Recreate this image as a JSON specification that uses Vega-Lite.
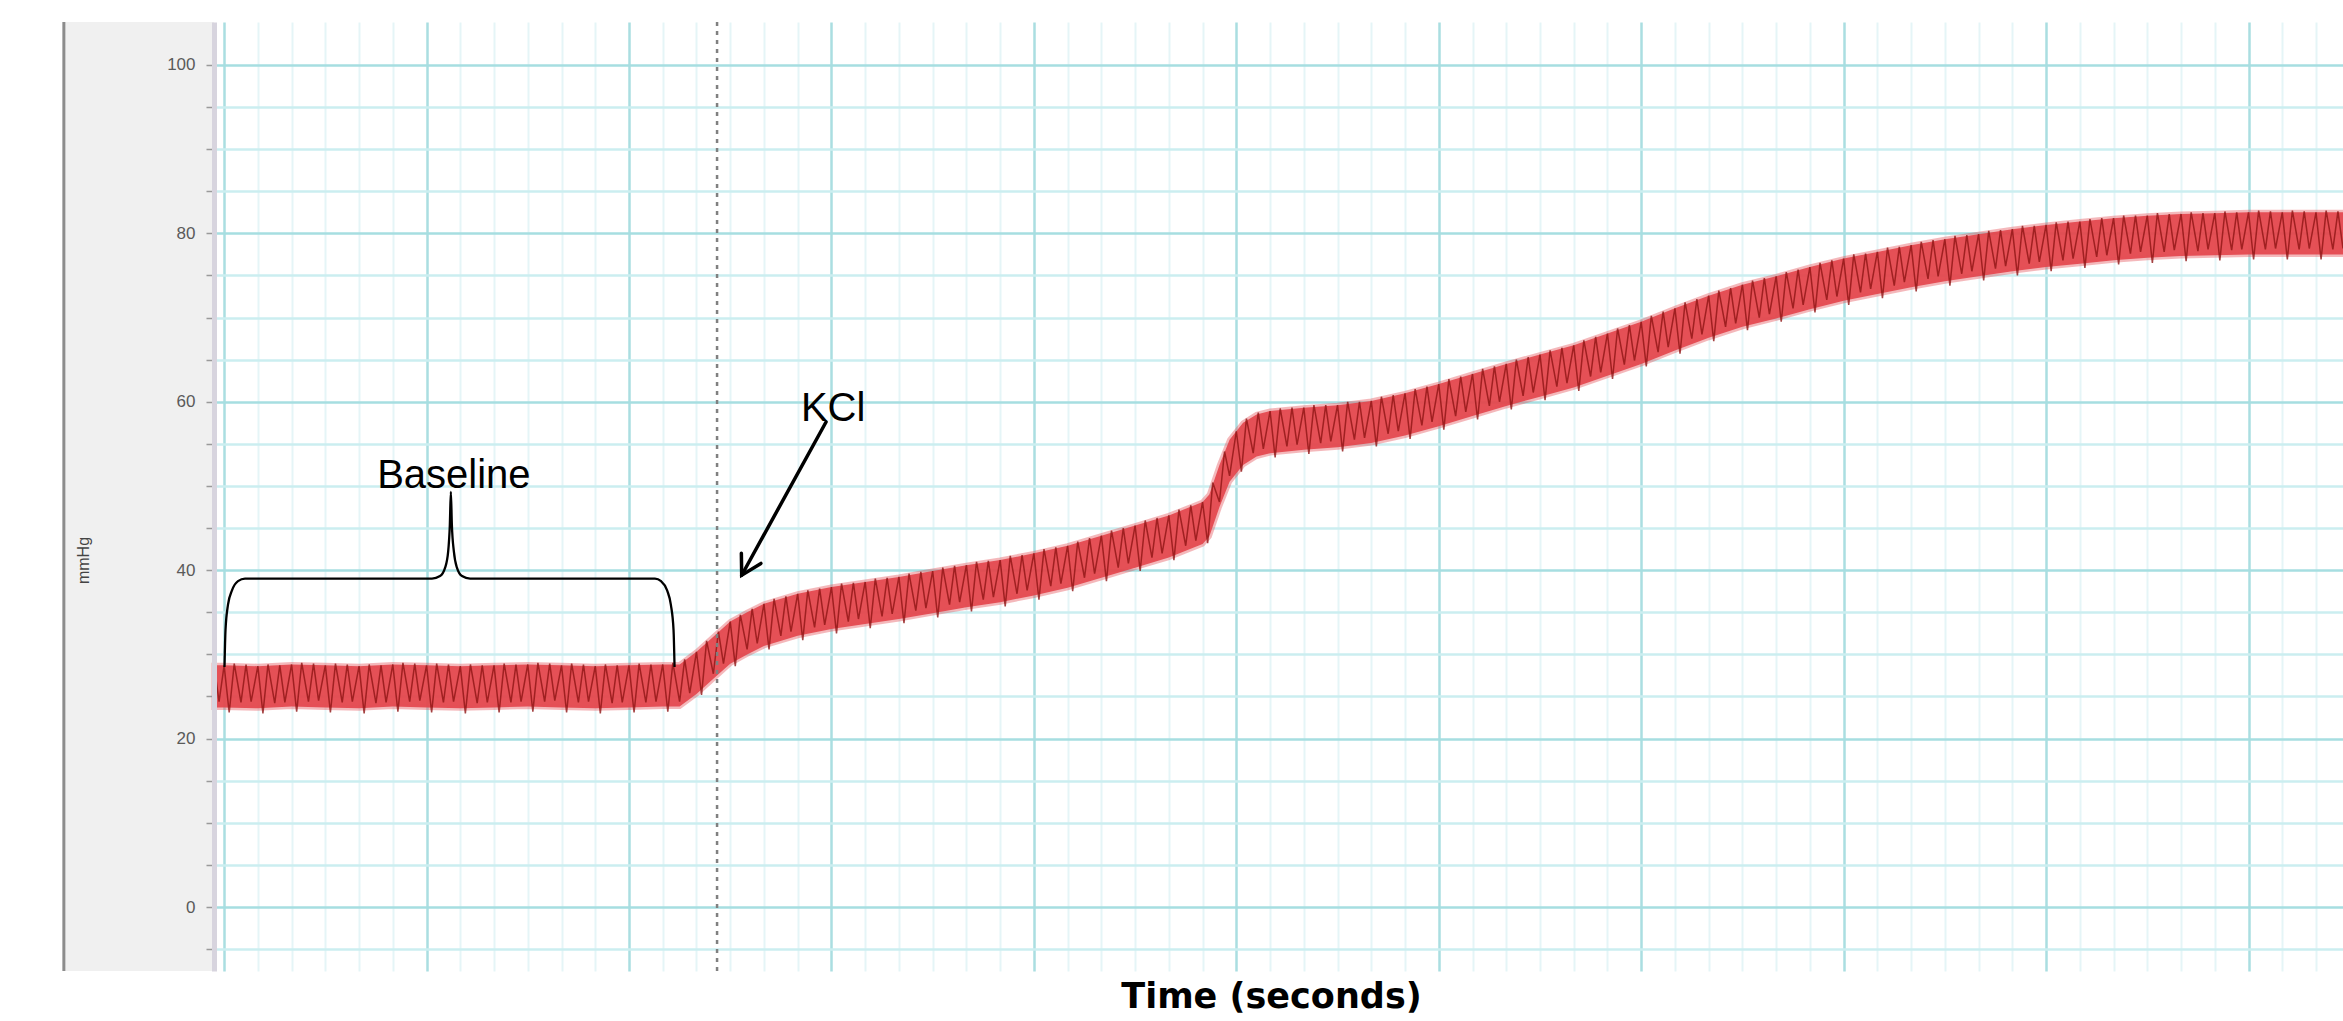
{
  "$schema": "https://vega.github.io/schema/vega-lite/v6.json",
  "width": 2129,
  "height": 949,
  "autosize": "none",
  "padding": {"left": 214, "top": 22, "right": 0, "bottom": 50},
  "background": "white",
  "config": {"view": {"stroke": null, "fill": "white"}},
  "datasets": {
    "panel": [{"t": -47.5, "t2": -3}],
    "band": [
      {"t":-3,"lo":23.7,"hi":28.7},{"t":0,"lo":23.7,"hi":28.7},{"t":10,"lo":23.6,"hi":28.6},{"t":20,"lo":23.8,"hi":28.8},{"t":30,"lo":23.7,"hi":28.7},{"t":40,"lo":23.6,"hi":28.6},{"t":50,"lo":23.8,"hi":28.8},{"t":60,"lo":23.7,"hi":28.7},{"t":70,"lo":23.6,"hi":28.6},{"t":80,"lo":23.7,"hi":28.7},{"t":90,"lo":23.8,"hi":28.8},{"t":100,"lo":23.7,"hi":28.7},{"t":110,"lo":23.6,"hi":28.6},{"t":120,"lo":23.7,"hi":28.7},{"t":130,"lo":23.8,"hi":28.8},{"t":135,"lo":23.8,"hi":28.8},{"t":140,"lo":25.3,"hi":30.3},{"t":145,"lo":27.1,"hi":32.1},{"t":150,"lo":28.9,"hi":33.9},{"t":155,"lo":30.0,"hi":35.0},{"t":160,"lo":31.0,"hi":36.0},{"t":170,"lo":32.2,"hi":37.2},{"t":180,"lo":33.0,"hi":38.0},{"t":190,"lo":33.6,"hi":38.6},{"t":200,"lo":34.2,"hi":39.2},{"t":210,"lo":34.9,"hi":39.9},{"t":220,"lo":35.6,"hi":40.6},{"t":230,"lo":36.2,"hi":41.2},{"t":240,"lo":37.0,"hi":42.0},{"t":250,"lo":37.9,"hi":42.9},{"t":260,"lo":39.1,"hi":44.1},{"t":270,"lo":40.3,"hi":45.3},{"t":280,"lo":41.5,"hi":46.5},{"t":290,"lo":43.1,"hi":48.1},{"t":292,"lo":44.0,"hi":49.0},{"t":295,"lo":47.5,"hi":52.5},{"t":298,"lo":50.5,"hi":55.5},{"t":302,"lo":52.5,"hi":57.5},{"t":306,"lo":53.5,"hi":58.5},{"t":310,"lo":53.9,"hi":58.9},{"t":320,"lo":54.3,"hi":59.3},{"t":330,"lo":54.6,"hi":59.6},{"t":340,"lo":55.1,"hi":60.1},{"t":350,"lo":56.0,"hi":61.0},{"t":360,"lo":57.1,"hi":62.1},{"t":370,"lo":58.3,"hi":63.3},{"t":380,"lo":59.5,"hi":64.5},{"t":390,"lo":60.6,"hi":65.6},{"t":400,"lo":61.7,"hi":66.7},{"t":410,"lo":63.1,"hi":68.1},{"t":420,"lo":64.5,"hi":69.5},{"t":430,"lo":66.1,"hi":71.1},{"t":440,"lo":67.6,"hi":72.6},{"t":450,"lo":68.9,"hi":73.9},{"t":460,"lo":69.9,"hi":74.9},{"t":470,"lo":71.0,"hi":76.0},{"t":480,"lo":72.0,"hi":77.0},{"t":490,"lo":72.8,"hi":77.8},{"t":500,"lo":73.6,"hi":78.6},{"t":510,"lo":74.3,"hi":79.3},{"t":520,"lo":74.9,"hi":79.9},{"t":530,"lo":75.5,"hi":80.5},{"t":540,"lo":76.0,"hi":81.0},{"t":550,"lo":76.4,"hi":81.4},{"t":560,"lo":76.8,"hi":81.8},{"t":570,"lo":77.1,"hi":82.1},{"t":580,"lo":77.3,"hi":82.3},{"t":590,"lo":77.4,"hi":82.4},{"t":600,"lo":77.5,"hi":82.5},{"t":610,"lo":77.5,"hi":82.5},{"t":620,"lo":77.5,"hi":82.5},{"t":628,"lo":77.5,"hi":82.5}
    ],
    "trace": [
      {"t":-3,"v":28.8},{"t":-1.5,"v":24.4},
      {"t":0,"v":28.7},{"t":1.5,"v":23.1},{"t":3,"v":28.9},{"t":5,"v":24.3},{"t":6.5,"v":28.8},{"t":8,"v":24.4},
      {"t":10,"v":28.6},{"t":11.5,"v":23.0},{"t":13,"v":28.8},{"t":15,"v":24.2},{"t":16.5,"v":28.7},{"t":18,"v":24.3},
      {"t":20,"v":28.8},{"t":21.5,"v":23.2},{"t":23,"v":29.0},{"t":25,"v":24.4},{"t":26.5,"v":28.9},{"t":28,"v":24.5},
      {"t":30,"v":28.7},{"t":31.5,"v":23.1},{"t":33,"v":28.9},{"t":35,"v":24.3},{"t":36.5,"v":28.8},{"t":38,"v":24.4},
      {"t":40,"v":28.6},{"t":41.5,"v":23.0},{"t":43,"v":28.8},{"t":45,"v":24.2},{"t":46.5,"v":28.7},{"t":48,"v":24.3},
      {"t":50,"v":28.8},{"t":51.5,"v":23.2},{"t":53,"v":29.0},{"t":55,"v":24.4},{"t":56.5,"v":28.9},{"t":58,"v":24.5},
      {"t":60,"v":28.7},{"t":61.5,"v":23.1},{"t":63,"v":28.9},{"t":65,"v":24.3},{"t":66.5,"v":28.8},{"t":68,"v":24.4},
      {"t":70,"v":28.6},{"t":71.5,"v":23.0},{"t":73,"v":28.8},{"t":75,"v":24.2},{"t":76.5,"v":28.7},{"t":78,"v":24.3},
      {"t":80,"v":28.7},{"t":81.5,"v":23.1},{"t":83,"v":28.9},{"t":85,"v":24.3},{"t":86.5,"v":28.8},{"t":88,"v":24.4},
      {"t":90,"v":28.8},{"t":91.5,"v":23.2},{"t":93,"v":29.0},{"t":95,"v":24.4},{"t":96.5,"v":28.9},{"t":98,"v":24.5},
      {"t":100,"v":28.7},{"t":101.5,"v":23.1},{"t":103,"v":28.9},{"t":105,"v":24.3},{"t":106.5,"v":28.8},{"t":108,"v":24.4},
      {"t":110,"v":28.6},{"t":111.5,"v":23.0},{"t":113,"v":28.8},{"t":115,"v":24.2},{"t":116.5,"v":28.7},{"t":118,"v":24.3},
      {"t":120,"v":28.7},{"t":121.5,"v":23.1},{"t":123,"v":28.9},{"t":125,"v":24.3},{"t":126.5,"v":28.8},{"t":128,"v":24.4},
      {"t":130,"v":28.8},{"t":131.5,"v":23.2},{"t":133,"v":29.0},{"t":135,"v":24.4},{"t":136.5,"v":29.4},{"t":138,"v":25.4},
      {"t":140,"v":30.3},{"t":141.5,"v":25.2},{"t":143,"v":31.6},{"t":145,"v":27.7},{"t":146.5,"v":32.7},{"t":148,"v":28.9},
      {"t":150,"v":33.9},{"t":151.5,"v":28.6},{"t":153,"v":34.7},{"t":155,"v":30.6},{"t":156.5,"v":35.4},{"t":158,"v":31.3},
      {"t":160,"v":36.0},{"t":161.5,"v":30.6},{"t":163,"v":36.6},{"t":165,"v":32.2},{"t":166.5,"v":36.9},{"t":168,"v":32.7},
      {"t":170,"v":37.2},{"t":171.5,"v":31.7},{"t":173,"v":37.6},{"t":175,"v":33.2},{"t":176.5,"v":37.8},{"t":178,"v":33.5},
      {"t":180,"v":38.0},{"t":181.5,"v":32.5},{"t":183,"v":38.4},{"t":185,"v":33.9},{"t":186.5,"v":38.5},{"t":188,"v":34.2},
      {"t":190,"v":38.6},{"t":191.5,"v":33.1},{"t":193,"v":39.0},{"t":195,"v":34.5},{"t":196.5,"v":39.1},{"t":198,"v":34.8},
      {"t":200,"v":39.2},{"t":201.5,"v":33.7},{"t":203,"v":39.6},{"t":205,"v":35.2},{"t":206.5,"v":39.8},{"t":208,"v":35.5},
      {"t":210,"v":39.9},{"t":211.5,"v":34.4},{"t":213,"v":40.3},{"t":215,"v":35.9},{"t":216.5,"v":40.5},{"t":218,"v":36.2},
      {"t":220,"v":40.6},{"t":221.5,"v":35.1},{"t":223,"v":41.0},{"t":225,"v":36.5},{"t":226.5,"v":41.1},{"t":228,"v":36.8},
      {"t":230,"v":41.2},{"t":231.5,"v":35.7},{"t":233,"v":41.7},{"t":235,"v":37.2},{"t":236.5,"v":41.8},{"t":238,"v":37.6},
      {"t":240,"v":42.0},{"t":241.5,"v":36.5},{"t":243,"v":42.5},{"t":245,"v":38.1},{"t":246.5,"v":42.7},{"t":248,"v":38.4},
      {"t":250,"v":42.9},{"t":251.5,"v":37.5},{"t":253,"v":43.4},{"t":255,"v":39.1},{"t":256.5,"v":43.8},{"t":258,"v":39.6},
      {"t":260,"v":44.1},{"t":261.5,"v":38.7},{"t":263,"v":44.7},{"t":265,"v":40.3},{"t":266.5,"v":45.0},{"t":268,"v":40.8},
      {"t":270,"v":45.3},{"t":271.5,"v":39.9},{"t":273,"v":45.9},{"t":275,"v":41.5},{"t":276.5,"v":46.2},{"t":278,"v":42.0},
      {"t":280,"v":46.5},{"t":281.5,"v":41.2},{"t":283,"v":47.2},{"t":285,"v":42.9},{"t":286.5,"v":47.7},{"t":288,"v":43.5},
      {"t":290,"v":48.1},{"t":291.5,"v":43.2},{"t":293,"v":50.4},{"t":295,"v":48.1},{"t":296.5,"v":54.1},{"t":298,"v":51.2},
      {"t":300,"v":56.5},{"t":301.5,"v":51.7},{"t":303,"v":58.0},{"t":305,"v":53.9},{"t":306.5,"v":58.7},{"t":308,"v":54.4},
      {"t":310,"v":58.9},{"t":311.5,"v":53.4},{"t":313,"v":59.2},{"t":315,"v":54.7},{"t":316.5,"v":59.3},{"t":318,"v":54.9},
      {"t":320,"v":59.3},{"t":321.5,"v":53.8},{"t":323,"v":59.6},{"t":325,"v":55.1},{"t":326.5,"v":59.6},{"t":328,"v":55.3},
      {"t":330,"v":59.6},{"t":331.5,"v":54.1},{"t":333,"v":60.0},{"t":335,"v":55.5},{"t":336.5,"v":60.0},{"t":338,"v":55.7},
      {"t":340,"v":60.1},{"t":341.5,"v":54.7},{"t":343,"v":60.6},{"t":345,"v":56.2},{"t":346.5,"v":60.8},{"t":348,"v":56.5},
      {"t":350,"v":61.0},{"t":351.5,"v":55.6},{"t":353,"v":61.5},{"t":355,"v":57.2},{"t":356.5,"v":61.8},{"t":358,"v":57.6},
      {"t":360,"v":62.1},{"t":361.5,"v":56.7},{"t":363,"v":62.7},{"t":365,"v":58.3},{"t":366.5,"v":63.0},{"t":368,"v":58.8},
      {"t":370,"v":63.3},{"t":371.5,"v":57.9},{"t":373,"v":63.9},{"t":375,"v":59.5},{"t":376.5,"v":64.2},{"t":378,"v":60.0},
      {"t":380,"v":64.5},{"t":381.5,"v":59.1},{"t":383,"v":65.0},{"t":385,"v":60.7},{"t":386.5,"v":65.3},{"t":388,"v":61.1},
      {"t":390,"v":65.6},{"t":391.5,"v":60.2},{"t":393,"v":66.1},{"t":395,"v":61.8},{"t":396.5,"v":66.4},{"t":398,"v":62.2},
      {"t":400,"v":66.7},{"t":401.5,"v":61.3},{"t":403,"v":67.3},{"t":405,"v":63.0},{"t":406.5,"v":67.7},{"t":408,"v":63.5},
      {"t":410,"v":68.1},{"t":411.5,"v":62.7},{"t":413,"v":68.7},{"t":415,"v":64.4},{"t":416.5,"v":69.1},{"t":418,"v":64.9},
      {"t":420,"v":69.5},{"t":421.5,"v":64.2},{"t":423,"v":70.2},{"t":425,"v":65.9},{"t":426.5,"v":70.7},{"t":428,"v":66.5},
      {"t":430,"v":71.1},{"t":431.5,"v":65.7},{"t":433,"v":71.8},{"t":435,"v":67.5},{"t":436.5,"v":72.2},{"t":438,"v":68.0},
      {"t":440,"v":72.6},{"t":441.5,"v":67.2},{"t":443,"v":73.2},{"t":445,"v":68.9},{"t":446.5,"v":73.5},{"t":448,"v":69.3},
      {"t":450,"v":73.9},{"t":451.5,"v":68.5},{"t":453,"v":74.4},{"t":455,"v":70.0},{"t":456.5,"v":74.7},{"t":458,"v":70.4},
      {"t":460,"v":74.9},{"t":461.5,"v":69.5},{"t":463,"v":75.4},{"t":465,"v":71.1},{"t":466.5,"v":75.7},{"t":468,"v":71.5},
      {"t":470,"v":76.0},{"t":471.5,"v":70.6},{"t":473,"v":76.5},{"t":475,"v":72.1},{"t":476.5,"v":76.8},{"t":478,"v":72.5},
      {"t":480,"v":77.0},{"t":481.5,"v":71.5},{"t":483,"v":77.5},{"t":485,"v":73.0},{"t":486.5,"v":77.6},{"t":488,"v":73.4},
      {"t":490,"v":77.8},{"t":491.5,"v":72.3},{"t":493,"v":78.3},{"t":495,"v":73.8},{"t":496.5,"v":78.4},{"t":498,"v":74.2},
      {"t":500,"v":78.6},{"t":501.5,"v":73.1},{"t":503,"v":79.0},{"t":505,"v":74.6},{"t":506.5,"v":79.2},{"t":508,"v":74.9},
      {"t":510,"v":79.3},{"t":511.5,"v":73.8},{"t":513,"v":79.7},{"t":515,"v":75.2},{"t":516.5,"v":79.8},{"t":518,"v":75.5},
      {"t":520,"v":79.9},{"t":521.5,"v":74.4},{"t":523,"v":80.3},{"t":525,"v":75.8},{"t":526.5,"v":80.4},{"t":528,"v":76.1},
      {"t":530,"v":80.5},{"t":531.5,"v":75.0},{"t":533,"v":80.9},{"t":535,"v":76.4},{"t":536.5,"v":80.9},{"t":538,"v":76.6},
      {"t":540,"v":81.0},{"t":541.5,"v":75.5},{"t":543,"v":81.3},{"t":545,"v":76.8},{"t":546.5,"v":81.4},{"t":548,"v":77.0},
      {"t":550,"v":81.4},{"t":551.5,"v":75.9},{"t":553,"v":81.7},{"t":555,"v":77.2},{"t":556.5,"v":81.8},{"t":558,"v":77.4},
      {"t":560,"v":81.8},{"t":561.5,"v":76.3},{"t":563,"v":82.1},{"t":565,"v":77.6},{"t":566.5,"v":82.1},{"t":568,"v":77.8},
      {"t":570,"v":82.1},{"t":571.5,"v":76.5},{"t":573,"v":82.4},{"t":575,"v":77.8},{"t":576.5,"v":82.3},{"t":578,"v":78.0},
      {"t":580,"v":82.3},{"t":581.5,"v":76.7},{"t":583,"v":82.5},{"t":585,"v":77.9},{"t":586.5,"v":82.4},{"t":588,"v":78.1},
      {"t":590,"v":82.4},{"t":591.5,"v":76.8},{"t":593,"v":82.6},{"t":595,"v":78.0},{"t":596.5,"v":82.5},{"t":598,"v":78.1},
      {"t":600,"v":82.5},{"t":601.5,"v":76.9},{"t":603,"v":82.7},{"t":605,"v":78.1},{"t":606.5,"v":82.6},{"t":608,"v":78.2},
      {"t":610,"v":82.5},{"t":611.5,"v":76.9},{"t":613,"v":82.7},{"t":615,"v":78.1},{"t":616.5,"v":82.6},{"t":618,"v":78.2},
      {"t":620,"v":82.5},{"t":621.5,"v":76.9},{"t":623,"v":82.7},{"t":625,"v":78.1},{"t":626.5,"v":82.6},{"t":628,"v":78.2}
    ],
    "brace": [
      {"i":0,"t":0.11,"v":28.5},{"i":1,"t":0.41,"v":32.9},{"i":2,"t":1.15,"v":35.9},{"i":3,"t":2.33,"v":37.6},{"i":4,"t":4.11,"v":38.7},{"i":5,"t":6.19,"v":39.0},
      {"i":6,"t":61.6,"v":39.0},{"i":7,"t":64.0,"v":39.3},{"i":8,"t":65.5,"v":40.3},{"i":9,"t":66.4,"v":42.2},{"i":10,"t":66.9,"v":45.4},{"i":11,"t":67.2,"v":49.3},
      {"i":12,"t":67.5,"v":45.4},{"i":13,"t":68.1,"v":42.2},{"i":14,"t":69.0,"v":40.3},{"i":15,"t":70.5,"v":39.3},{"i":16,"t":72.9,"v":39.0},
      {"i":17,"t":127.7,"v":39.0},{"i":18,"t":129.5,"v":38.7},{"i":19,"t":131.3,"v":37.6},{"i":20,"t":132.4,"v":35.9},{"i":21,"t":133.2,"v":32.9},{"i":22,"t":133.5,"v":28.5}
    ],
    "arrow": [
      {"seg":"shaft","i":0,"t":178.4,"v":57.6},{"seg":"shaft","i":1,"t":153.4,"v":39.4},
      {"seg":"head","i":0,"t":153.3,"v":42.0},{"seg":"head","i":1,"t":153.4,"v":39.4},{"seg":"head","i":2,"t":159.1,"v":40.8}
    ],
    "labels": [
      {"t":68.1,"v":49.8,"label":"Baseline"},
      {"t":180.5,"v":57.7,"label":"KCl"}
    ],
    "events": [
      {"t":146.1,"event":"KCl added"}
    ]
  },
  "encoding": {
    "x": {
      "field": "t", "type": "quantitative",
      "scale": {"domain": [-3, 628], "nice": false, "zero": false},
      "axis": {
        "values": [0,10,20,30,40,50,60,70,80,90,100,110,120,130,140,150,160,170,180,190,200,210,220,230,240,250,260,270,280,290,300,310,320,330,340,350,360,370,380,390,400,410,420,430,440,450,460,470,480,490,500,510,520,530,540,550,560,570,580,590,600,610,620],
        "labels": false, "ticks": false, "domain": false, "grid": true,
        "gridColor": {"condition": {"test": "datum.value % 60 === 0", "value": "#aadee1"}, "value": "#e5f5f7"},
        "gridWidth": {"condition": {"test": "datum.value % 60 === 0", "value": 2.5}, "value": 2},
        "title": "Time (seconds)",
        "titleFont": "DejaVu Sans", "titleFontSize": 35, "titleFontWeight": "bold", "titleColor": "#000000",
        "titleX": 1057, "titleAlign": "center", "titlePadding": 8,
        "zindex": 0
      }
    }
  },
  "layer": [
    {
      "data": {"name": "panel"},
      "mark": {"type": "rect", "fill": "#f0f0f0"},
      "encoding": {
        "x2": {"field": "t2"},
        "y": {"datum": -7.6, "type": "quantitative", "scale": {"domain": [-7.6, 105.1], "nice": false, "zero": false}, "axis": null},
        "y2": {"datum": 105.1}
      }
    },
    {
      "data": {"name": "panel"},
      "mark": {"type": "rule", "color": "#8c8c8c", "strokeWidth": 3},
      "encoding": {
        "y": {"datum": -7.6, "type": "quantitative", "scale": {"domain": [-7.6, 105.1], "nice": false, "zero": false}, "axis": null},
        "y2": {"datum": 105.1}
      }
    },
    {
      "data": {"name": "band"},
      "mark": {"type": "area", "color": "#e4474d", "opacity": 0.95, "stroke": "#e4474d", "strokeOpacity": 0.4, "strokeWidth": 5},
      "encoding": {
        "y": {
          "field": "lo", "type": "quantitative",
          "scale": {"domain": [-7.6, 105.1], "nice": false, "zero": false},
          "axis": {
            "orient": "left",
            "values": [-5,0,5,10,15,20,25,30,35,40,45,50,55,60,65,70,75,80,85,90,95,100],
            "labels": false, "ticks": false, "domain": false, "grid": true,
            "gridColor": {"condition": {"test": "datum.value % 20 === 0", "value": "#a6dee1"}, "value": "#cbeef0"},
            "gridWidth": 2.5,
            "title": null,
            "zindex": 0
          }
        },
        "y2": {"field": "hi"}
      }
    },
    {
      "data": {"name": "trace"},
      "mark": {"type": "line", "color": "#8e1414", "strokeWidth": 1.5, "opacity": 0.8},
      "encoding": {
        "y": {
          "field": "v", "type": "quantitative",
          "scale": {"domain": [-7.6, 105.1], "nice": false, "zero": false},
          "axis": {
            "orient": "left",
            "values": [-5,0,5,10,15,20,25,30,35,40,45,50,55,60,65,70,75,80,85,90,95,100],
            "grid": false,
            "domain": true, "domainColor": "#d7d4de", "domainWidth": 5,
            "ticks": true, "tickSize": 8, "tickColor": "#9a9a9a", "tickWidth": 1.5,
            "labelExpr": "datum.value % 20 === 0 ? datum.label : ''",
            "labelFont": "Liberation Sans", "labelFontSize": 17, "labelColor": "#5a5a5a", "labelPadding": 11, "labelOverlap": false,
            "title": "mmHg",
            "titleFont": "Liberation Sans", "titleFontSize": 16, "titleFontWeight": "normal", "titleColor": "#444444",
            "titleX": -131, "titleY": 538, "titleAngle": -90, "titleAlign": "center", "titleBaseline": "middle",
            "zindex": 1
          }
        }
      }
    },
    {
      "data": {"name": "events"},
      "mark": {"type": "rule", "color": "#808080", "strokeWidth": 2.5, "strokeDash": [4, 5]},
      "encoding": {}
    },
    {
      "data": {"name": "brace"},
      "mark": {"type": "line", "color": "#000000", "strokeWidth": 2.3, "interpolate": "monotone"},
      "encoding": {
        "y": {"field": "v", "type": "quantitative", "scale": {"domain": [-7.6, 105.1], "nice": false, "zero": false}, "axis": null},
        "order": {"field": "i"}
      }
    },
    {
      "data": {"name": "arrow"},
      "mark": {"type": "line", "color": "#000000", "strokeWidth": 3.5, "strokeCap": "round"},
      "encoding": {
        "y": {"field": "v", "type": "quantitative", "scale": {"domain": [-7.6, 105.1], "nice": false, "zero": false}, "axis": null},
        "detail": {"field": "seg"},
        "order": {"field": "i"}
      }
    },
    {
      "data": {"name": "labels"},
      "mark": {"type": "text", "font": "Liberation Sans", "fontSize": 40, "color": "#000000", "align": "center", "baseline": "alphabetic"},
      "encoding": {
        "y": {"field": "v", "type": "quantitative", "scale": {"domain": [-7.6, 105.1], "nice": false, "zero": false}, "axis": null},
        "text": {"field": "label"}
      }
    }
  ],
  "resolve": {"axis": {"y": "independent"}}
}
